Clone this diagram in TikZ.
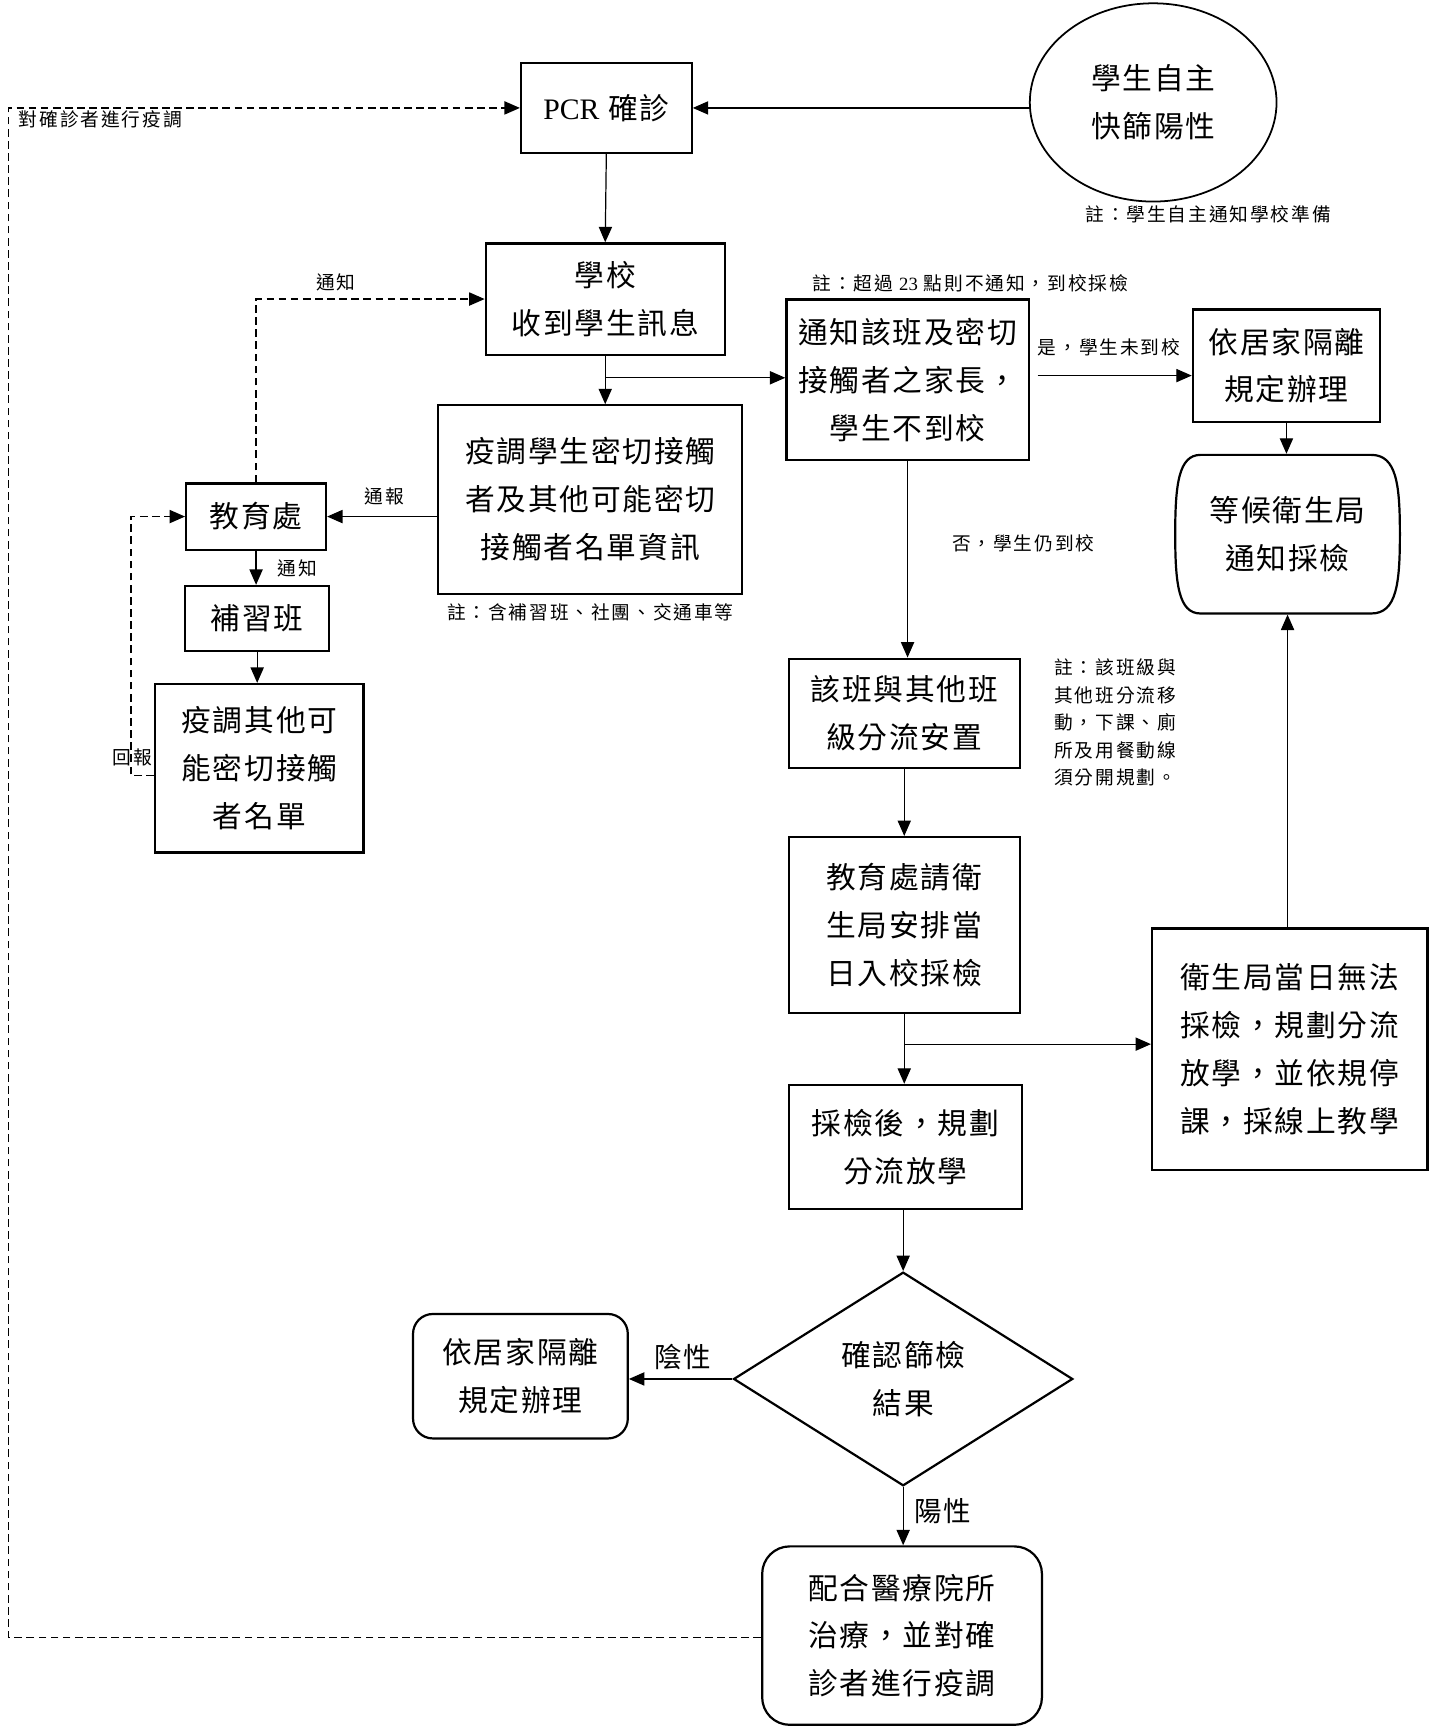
\documentclass[tikz,border=0pt]{standalone}
\usepackage{fontspec}
\setmainfont{Noto Sans CJK TC}
\newfontfamily\cjk[LetterSpace=6]{Noto Sans CJK TC}
\newfontfamily\cjksmall[LetterSpace=10]{Noto Sans CJK TC}
\newfontfamily\latin{Liberation Serif}
\usetikzlibrary{arrows.meta,shapes.geometric}
\tikzset{
  box/.style={draw, line width=2pt, align=center, inner sep=0pt, font=\cjk\fontsize{27}{43.5}\selectfont},
  roundbox/.style={box, rounded corners=18pt},
  lbl/.style={inner sep=0pt, font=\cjksmall\fontsize{17}{25}\selectfont},
  biglbl/.style={inner sep=0pt, font=\cjk\fontsize{25}{30}\selectfont},
  link/.style={line width=1.1pt, -{Triangle[length=14pt,width=12pt]}},
  dlink/.style={link, dash pattern=on 7pt off 4pt},
}

\begin{document}
\begin{tikzpicture}[x=1pt, y=-1pt]
			%%%%% START %%%%%
			\useasboundingbox (0,0) rectangle (1304,1568);
			
			\node[box, minimum width=155pt, minimum height=82pt] (pcr) at (550.5,98) {{\latin PCR} 確診};
			\node[box, ellipse, line width=1.6pt, minimum width=224pt, minimum height=180pt] (selftest) at (1047,93) {學生自主\\快篩陽性};
			\node[lbl] (noteself) at (1097,195) {註：學生自主通知學校準備};
			
			\node[box, minimum width=217pt, minimum height=101pt] (school) at (549.5,271.5) {學校\\收到學生訊息};
			\node[box, minimum width=276pt, minimum height=171pt] (contact) at (536,453.5) {疫調學生密切接觸\\者及其他可能密切\\接觸者名單資訊};
			\node[lbl] (notecontact) at (536,556) {註：含補習班、社團、交通車等};
			
			\node[box, minimum width=127pt, minimum height=60pt] (edu) at (232.5,469) {教育處};
			\node[box, minimum width=131pt, minimum height=59pt] (cram) at (233.5,561.5) {補習班};
			\node[box, minimum width=189pt, minimum height=153pt] (other) at (235.5,697.5) {疫調其他可\\能密切接觸\\者名單};
			
			\node[box, minimum width=220pt, minimum height=146pt] (notify) at (824,345) {通知該班及密切\\接觸者之家長，\\學生不到校};
			\node[lbl] (notenotify) at (881,257) {註：超過 {\latin 23} 點則不通知，到校採檢};
			\node[box, minimum width=170pt, minimum height=102pt] (homeA) at (1168,332) {依居家隔離\\規定辦理};
			
			\node[box, draw=none, minimum width=204pt, minimum height=144pt] (wait) at (1169,485) {等候衛生局\\通知採檢};
			\draw[line width=2pt] (1090,413) -- (1245,413) .. controls (1268,413) and (1271,440) .. (1271,485)
				.. controls (1271,530) and (1268,557) .. (1245,557) -- (1090,557)
				.. controls (1070,557) and (1067,530) .. (1067,485) .. controls (1067,440) and (1070,413) .. (1090,413) -- cycle;
			
			\node[box, minimum width=210pt, minimum height=99pt] (split) at (821,647.5) {該班與其他班\\級分流安置};
			\node[lbl, anchor=west, align=left] (notesplit) at (957,656) {註：該班級與\\其他班分流移\\動，下課、廁\\所及用餐動線\\須分開規劃。};
			\node[box, minimum width=210pt, minimum height=160pt] (request) at (821,840) {教育處請衛\\生局安排當\\日入校採檢};
			\node[box, minimum width=250pt, minimum height=219pt] (health) at (1171,952.5) {衛生局當日無法\\採檢，規劃分流\\放學，並依規停\\課，採線上教學};
			\node[box, minimum width=212pt, minimum height=113pt] (after) at (822,1041.5) {採檢後，規劃\\分流放學};
			
			\node[box, diamond, minimum width=308pt, minimum height=194pt] (check) at (820,1252) {確認篩檢\\結果};
			\node[roundbox, minimum width=195pt, minimum height=113pt] (homeB) at (472.5,1249.5) {依居家隔離\\規定辦理};
			\node[roundbox, rounded corners=25pt, minimum width=254pt, minimum height=162pt] (treat) at (819,1485) {配合醫療院所\\治療，並對確\\診者進行疫調};
			
			% connectors
			\coordinate (fork) at (549.5,343);
			\coordinate (fork2) at (821,948);
			\coordinate (ret) at (119,704);
			\coordinate (loop) at (8,1487);
			
			\draw[link] (pcr.east -| selftest.west) -- (pcr.east);
			\draw[link] (pcr.south) -- (school.north);
			\draw[link] (school.south) -- (school.south |- contact.north);
			\draw[link] (fork) -- (fork -| notify.west);
			\draw[link] (contact.west |- edu.east) -- (edu.east);
			\draw[dlink] (edu.north) |- (school.west);
			\draw[link] (edu.south) -- (edu.south |- cram.north);
			\draw[link] (cram.south) -- (cram.south |- other.north);
			\draw[dlink] (other.west |- ret) -- (ret) |- (edu.west);
			\draw[link] ([xshift=7pt,yshift=4pt]notify.east) -- ([yshift=4pt]notify.east -| homeA.west);
			\draw[link] (homeA.south) -- (homeA.south |- wait.north);
			\draw[link] (notify.south) -- (notify.south |- split.north);
			\draw[link] (split.south) -- (request.north);
			\draw[link] (request.south) -- (request.south |- after.north);
			\draw[link] (fork2) -- (fork2 -| health.west);
			\draw[link] (wait.south |- health.north) -- (wait.south);
			\draw[link] (check.north |- after.south) -- (check.north);
			\draw[link] (check.west) -- (check.west -| homeB.east);
			\draw[link] (check.south) -- (check.south |- treat.north);
			\draw[dlink] (treat.west |- loop) -- (loop) |- (pcr.west);
			
			% labels
			\node[lbl] (lblinvest) at (17,108) [anchor=west] {對確診者進行疫調};
			\node[lbl] (lblnotice) at (305,256) {通知};
			\node[lbl] (lblreport) at (349,451) {通報};
			\node[lbl] (lblnotice2) at (270,516) {通知};
			\node[lbl] (lblreturn) at (120,688) {回報};
			\node[lbl] (lblyes) at (1007,315) {是，學生未到校};
			\node[lbl] (lblno) at (929,493) {否，學生仍到校};
			\node[biglbl] (lblneg) at (620,1232) {陰性};
			\node[biglbl] (lblpos) at (856,1372) {陽性};
			
			%%%%% END %%%%%
\end{tikzpicture}
\end{document}
